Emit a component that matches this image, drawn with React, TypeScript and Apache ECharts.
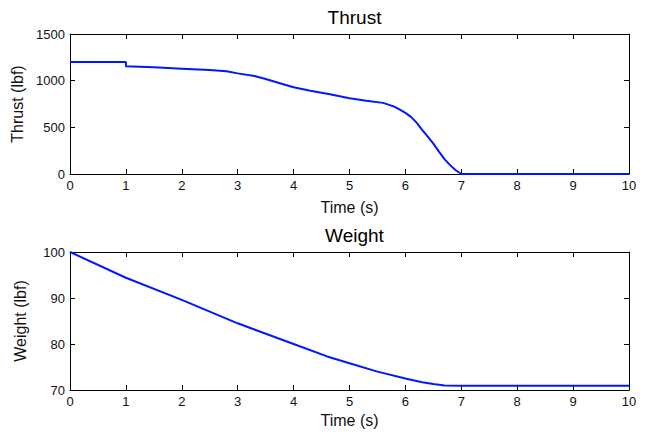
import React, { useEffect, useRef } from "react";
import * as echarts from "echarts";

// Thrust profile (lbf) against time (s)
const thrustTime = [0, 1, 1, 1.5, 2, 2.5, 2.8, 3, 3.3, 3.5, 3.8, 4, 4.3, 4.65, 5, 5.3, 5.6, 5.8, 5.9, 6, 6.1, 6.2, 6.3, 6.4, 6.5, 6.6, 6.7, 6.8, 6.9, 7, 10];
const thrustValue = [1200, 1200, 1154, 1143, 1129, 1114, 1100, 1078, 1050, 1018, 964, 929, 893, 855, 811, 786, 762, 722, 690, 655, 612, 550, 474, 400, 325, 240, 160, 95, 40, 0, 0];

// Weight (lbf) against time (s)
const weightTime = [0, 1, 2, 3, 4, 4.6, 5, 5.5, 6, 6.3, 6.5, 6.7, 7, 10];
const weightValue = [100, 94.4, 89.6, 84.5, 80.0, 77.3, 75.8, 74.0, 72.5, 71.7, 71.3, 71.0, 70.9, 70.9];

const timeTicks = { min: 0, max: 10, interval: 1 };
const thrustTicks = { min: 0, max: 1500, interval: 500 };
const weightTicks = { min: 70, max: 100, interval: 10 };

const FONT = "'Liberation Sans', Arial, sans-serif";
const LINE_COLOR = "#0018ff";

const pairs = (xs: number[], ys: number[]) => xs.map((x, i) => [x, ys[i]]);

export default function App() {
  const ref = useRef<HTMLDivElement>(null);

  useEffect(() => {
    if (!ref.current) return;
    const chart = echarts.init(ref.current, undefined, { renderer: "svg" });

    const axisLine = { show: true, onZero: false, lineStyle: { color: "#000", width: 1 } };
    const axisTick = { show: true, inside: true, length: 5, lineStyle: { color: "#000" } };
    const axisLabel = {
      show: true,
      color: "#111",
      fontSize: 13,
      fontFamily: FONT,
      margin: 5,
      formatter: (v: number) => String(v),
    };
    const noLabel = { show: false };
    const nameStyle = { color: "#111", fontSize: 16, fontFamily: FONT };

    const xMain = (gridIndex: number, gap: number) => ({
      type: "value",
      gridIndex,
      position: "bottom",
      ...timeTicks,
      name: "Time (s)",
      nameLocation: "middle",
      nameGap: gap,
      nameTextStyle: nameStyle,
      axisLine,
      axisTick,
      axisLabel,
      splitLine: { show: false },
    });
    const xMirror = (gridIndex: number) => ({
      type: "value",
      gridIndex,
      position: "top",
      ...timeTicks,
      axisLine,
      axisTick,
      axisLabel: noLabel,
      splitLine: { show: false },
    });
    const yMain = (gridIndex: number, ticks: any, name: string) => ({
      type: "value",
      gridIndex,
      position: "left",
      ...ticks,
      name,
      nameLocation: "middle",
      nameGap: 42,
      nameTextStyle: nameStyle,
      axisLine,
      axisTick,
      axisLabel: { ...axisLabel, margin: 5 },
      splitLine: { show: false },
    });
    const yMirror = (gridIndex: number, ticks: any) => ({
      type: "value",
      gridIndex,
      position: "right",
      ...ticks,
      axisLine,
      axisTick,
      axisLabel: noLabel,
      splitLine: { show: false },
    });

    const titleStyle = { fontSize: 19, fontWeight: "normal", color: "#000", fontFamily: FONT };

    chart.setOption({
      animation: false,
      backgroundColor: "#fff",
      title: [
        { text: "Thrust", left: 349.5, textAlign: "center", top: 3, textStyle: titleStyle },
        { text: "Weight", left: 349.5, textAlign: "center", top: 221, textStyle: titleStyle },
      ],
      grid: [
        { left: 70, right: 27, top: 34, height: 140, containLabel: false },
        { left: 70, right: 27, top: 252, height: 138, containLabel: false },
      ],
      xAxis: [xMain(0, 25), xMirror(0), xMain(1, 22), xMirror(1)],
      yAxis: [
        yMain(0, thrustTicks, "Thrust (lbf)"),
        yMirror(0, thrustTicks),
        yMain(1, weightTicks, "Weight (lbf)"),
        yMirror(1, weightTicks),
      ],
      series: [
        {
          type: "line",
          xAxisIndex: 0,
          yAxisIndex: 0,
          data: pairs(thrustTime, thrustValue),
          showSymbol: false,
          smooth: false,
          lineStyle: { color: LINE_COLOR, width: 2 },
          itemStyle: { color: LINE_COLOR },
        },
        {
          type: "line",
          xAxisIndex: 2,
          yAxisIndex: 2,
          data: pairs(weightTime, weightValue),
          showSymbol: false,
          smooth: false,
          lineStyle: { color: LINE_COLOR, width: 2 },
          itemStyle: { color: LINE_COLOR },
        },
      ],
    });

    return () => chart.dispose();
  }, []);

  return <div ref={ref} style={{ width: 656, height: 434, position: "absolute", left: 0, top: 0 }} />;
}
